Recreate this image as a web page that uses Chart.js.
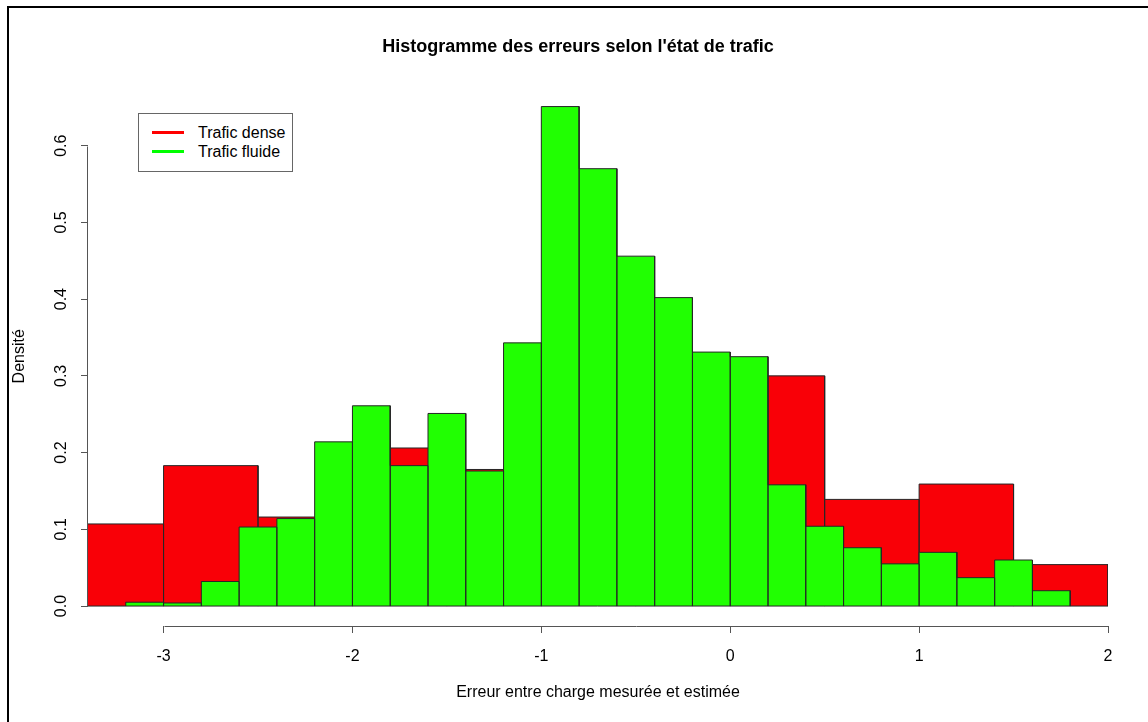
<!DOCTYPE html>
<html lang="fr">
<head>
<meta charset="utf-8">
<title>Histogramme des erreurs selon l'état de trafic</title>
<script src="https://cdn.jsdelivr.net/npm/chart.js@4.4.1/dist/chart.umd.min.js"></script>
<style>
  html, body { margin: 0; padding: 0; background: #fff; overflow: hidden; }
  #wrap { position: relative; width: 1148px; height: 722px; }
  #frame { position: absolute; left: 7px; top: 6px; width: 1200px; height: 800px; border: 2px solid #000; pointer-events: none; }
  #legend { position: absolute; left: 138px; top: 113px; width: 153px; height: 57px; border: 1px solid #666; background: #fff;
            font: 16px "Liberation Sans", Arial, sans-serif; color: #000; }
  #legend .item { position: absolute; left: 0; width: 150px; height: 19px; line-height: 19px; white-space: nowrap; }
  #legend .swatch { position: absolute; left: 13px; top: 8px; width: 32px; height: 3px; }
  #legend .label { position: absolute; left: 59px; top: 0; }
</style>
</head>
<body>
<div id="wrap">
  <canvas id="hist" width="1148" height="722"></canvas>
  <div id="legend"></div>
  <div id="frame"></div>
</div>
<script>
// densités
const denseBreaks = [-3.5, -3.0, -2.5, -2.0, -1.5, -1.0, -0.5, 0.0, 0.5, 1.0, 1.5, 2.0];
const denseDensity = [0.107, 0.183, 0.116, 0.206, 0.178, 0.32, 0.24, 0.300, 0.139, 0.159, 0.054];

const fluideBreaks = [-3.2, -3.0, -2.8, -2.6, -2.4, -2.2, -2.0, -1.8, -1.6, -1.4, -1.2, -1.0, -0.8,
                      -0.6, -0.4, -0.2, 0.0, 0.2, 0.4, 0.6, 0.8, 1.0, 1.2, 1.4, 1.6, 1.8];
const fluideDensity = [0.005, 0.004, 0.032, 0.103, 0.114, 0.214, 0.261, 0.183, 0.251, 0.176, 0.343, 0.651,
                       0.570, 0.456, 0.402, 0.331, 0.325, 0.158, 0.104, 0.076, 0.055, 0.070, 0.037, 0.060, 0.020];

const seriesLabels = ['Trafic dense', 'Trafic fluide'];
const xTicks = [-3, -2, -1, 0, 1, 2];
const yTicks = [0, 0.1, 0.2, 0.3, 0.4, 0.5, 0.6];

const FONT = '"Liberation Sans", Arial, Helvetica, sans-serif';
const RED = '#f90007';
const GREEN = '#21ff02';
const EDGE = '#262626';

// contour "en escalier" d'un histogramme: chaque classe descend a zero
function outline(breaks, dens) {
    const pts = [];
    for (let i = 0; i < dens.length; i++) {
        pts.push({x: breaks[i], y: 0}, {x: breaks[i], y: dens[i]},
                 {x: breaks[i + 1], y: dens[i]}, {x: breaks[i + 1], y: 0});
    }
    return pts;
}

/* axes a la R: trait seulement entre la premiere et la derniere graduation */
const rAxes = {
    id: 'rAxes',
    afterDraw(chart) {
        const {ctx, chartArea, scales: {x, y}} = chart;
        ctx.save();
        ctx.strokeStyle = '#555';
        ctx.lineWidth = 1;
        ctx.beginPath();
        ctx.moveTo(Math.round(x.getPixelForValue(xTicks[0])) + 0.5, chartArea.bottom + 0.5);
        ctx.lineTo(Math.round(x.getPixelForValue(xTicks[xTicks.length - 1])) + 0.5, chartArea.bottom + 0.5);
        ctx.moveTo(chartArea.left - 0.5, Math.round(y.getPixelForValue(yTicks[0])) + 0.5);
        ctx.lineTo(chartArea.left - 0.5, Math.round(y.getPixelForValue(yTicks[yTicks.length - 1])) + 0.5);
        ctx.stroke();
        ctx.restore();
    }
};

const ctx = document.getElementById('hist').getContext('2d');

const chart = new Chart(ctx, {
    type: 'line',
    data: {
        datasets: [{
            label: 'base',
            data: [{x: denseBreaks[0], y: 0}, {x: denseBreaks[denseBreaks.length - 1], y: 0}],
            borderColor: EDGE,
            borderWidth: 1,
            fill: false,
            order: 0
        }, {
            label: seriesLabels[1],
            data: outline(fluideBreaks, fluideDensity),
            backgroundColor: GREEN,
            borderColor: EDGE,
            borderWidth: 1,
            fill: 'origin',
            order: 1
        }, {
            label: seriesLabels[0],
            data: outline(denseBreaks, denseDensity),
            backgroundColor: RED,
            borderColor: EDGE,
            borderWidth: 1,
            fill: 'origin',
            order: 2
        }]
    },
    options: {
        responsive: false,
        animation: false,
        events: [],
        elements: {
            point: {radius: 0, hitRadius: 0, hoverRadius: 0},
            line: {tension: 0, borderJoinStyle: 'miter'}
        },
        layout: {padding: {left: 48, right: 40, top: 0, bottom: 0}},
        plugins: {
            legend: {display: false},
            tooltip: {enabled: false},
            title: {
                display: true,
                text: "Histogramme des erreurs selon l'état de trafic",
                color: '#000',
                font: {family: FONT, size: 18, weight: 'bold'},
                padding: {top: 36, bottom: 29}
            }
        },
        scales: {
            x: {
                type: 'linear',
                min: -3.4,
                max: 2.0,
                afterBuildTicks: s => { s.ticks = xTicks.map(v => ({value: v})); },
                afterFit: s => { s.height = 96; },
                border: {display: false},
                grid: {drawOnChartArea: false, drawTicks: true, tickLength: 7, color: '#555'},
                ticks: {
                    autoSkip: false, maxRotation: 0, padding: 14, color: '#000',
                    font: {family: FONT, size: 16},
                    callback: v => String(v)
                },
                title: {
                    display: true,
                    text: 'Erreur entre charge mesurée et estimée',
                    color: '#000',
                    font: {family: FONT, size: 16},
                    padding: {top: 0, bottom: 20}
                }
            },
            y: {
                type: 'linear',
                min: -0.026,
                max: 0.677,
                afterBuildTicks: s => { s.ticks = yTicks.map(v => ({value: v})); },
                afterFit: s => { s.width = 40; },
                border: {display: false},
                grid: {drawOnChartArea: false, drawTicks: true, tickLength: 7, color: '#555'},
                ticks: {
                    autoSkip: false, minRotation: 90, maxRotation: 90, crossAlign: 'center',
                    padding: 8, color: '#000',
                    font: {family: FONT, size: 16},
                    callback: v => v.toFixed(1)
                },
                title: {
                    display: true,
                    text: 'Densité',
                    color: '#000',
                    font: {family: FONT, size: 16},
                    padding: {top: -38, bottom: 0}
                }
            }
        }
    },
    plugins: [rAxes]
});

// legende a la R, construite depuis les jeux de donnees
const legend = document.getElementById('legend');
seriesLabels.forEach((name, i) => {
    const ds = chart.data.datasets.find(d => d.label === name);
    const item = document.createElement('div');
    item.className = 'item';
    item.style.top = (9 + i * 19) + 'px';
    const sw = document.createElement('span');
    sw.className = 'swatch';
    sw.style.background = ds.backgroundColor === RED ? '#ff0000' : '#00ff00';
    const lb = document.createElement('span');
    lb.className = 'label';
    lb.textContent = name;
    item.appendChild(sw);
    item.appendChild(lb);
    legend.appendChild(item);
});
</script>
</body>
</html>
